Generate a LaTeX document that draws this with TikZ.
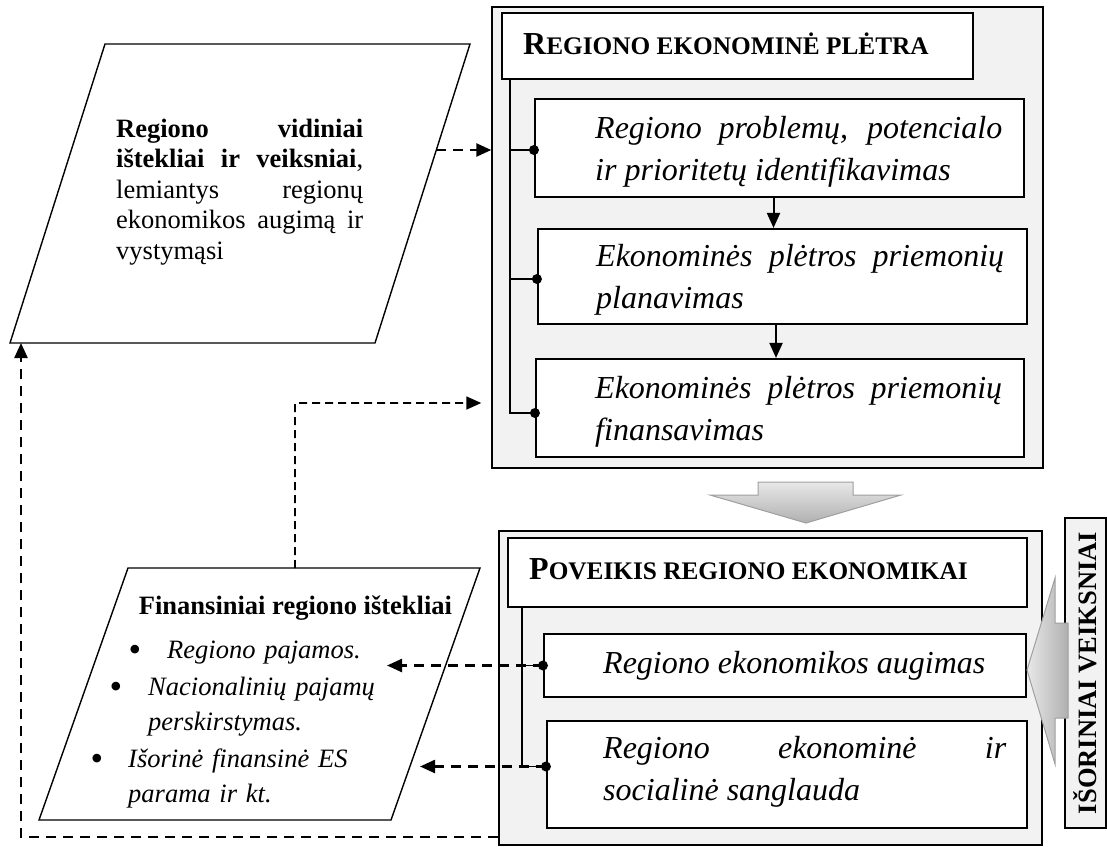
\documentclass[tikz,border=0pt]{standalone}
\usepackage{fontspec}
\setmainfont{Liberation Serif}
\usetikzlibrary{arrows.meta,calc,fit}
\definecolor{panel}{HTML}{F2F2F2}
% small capitals made from a reduced upper-case size
\newcommand\smcap[1]{{\fontsize{25.3}{25.3}\selectfont #1}}
\begin{document}
\begin{tikzpicture}[x=1pt,y=-1pt,
  panelbox/.style={draw=black,line width=1.4pt,fill=panel,inner sep=0pt},
  headbox/.style={draw=black,line width=1.6pt,fill=white,inner sep=0pt},
  stagebox/.style={draw=black,line width=2.1pt,fill=white,inner sep=0pt},
  bodytext/.style={inner sep=0pt,anchor=base west,align=justify,font=\fontsize{32}{42}\selectfont\itshape},
  bodyline/.style={inner sep=0pt,anchor=base west,font=\fontsize{32}{42}\selectfont\itshape},
  headtext/.style={inner sep=0pt,anchor=base west,font=\fontsize{32}{32}\selectfont\bfseries},
  itemtext/.style={inner sep=0pt,anchor=base west,text width=300pt,align=left,font=\fontsize{26.5}{35.5}\selectfont\itshape},
  bullet/.style={inner sep=0pt,anchor=base,font=\fontsize{36}{36}\selectfont},
  spine/.style={line width=1.8pt},
  flow/.style={line width=2pt,-{Triangle[length=15pt,width=13pt]}},
  linkdash/.style={line width=2.4pt,dash pattern=on 10pt off 7pt,-{Triangle[length=15pt,width=13pt]}},
  finedash/.style={line width=1.6pt,dash pattern=on 8pt off 5pt,-{Triangle[length=15pt,width=13pt]}},
  bigarrow/.style={draw=gray!75,line width=1pt},
  slanted/.style={draw=black,line width=1.4pt,fill=white},
]
\useasboundingbox (0,0) rectangle (1107,846);

% ---------- upper panel: regional economic development ----------
\node[panelbox,fit={(492,7) (1043,468)}] (eco) {};
\node[headbox,fit={(502,13) (973,79)}] (ecoHead) {};
\node[headtext] (ecoTitle) at (523,54) {R\smcap{EGIONO EKONOMINĖ PLĖTRA}};
\node[stagebox,fit={(535,99) (1024,197)}] (s1) {};
\node[stagebox,fit={(538,229) (1027,324)}] (s2) {};
\node[stagebox,fit={(536,359) (1024,457)}] (s3) {};
\node[bodytext,text width=407pt] (t1) at (595,138) {Regiono problemų, potencialo\linebreak ir prioritetų identifikavimas};
\node[bodytext,text width=408pt] (t2) at (596,266) {Ekonominės plėtros priemonių\linebreak planavimas};
\node[bodytext,text width=407pt] (t3) at (595,398) {Ekonominės plėtros priemonių\linebreak finansavimas};

\coordinate (sp) at ([xshift=9pt]ecoHead.south west);
\coordinate (j1) at ([yshift=-2pt]s1.west);
\coordinate (j2) at ([yshift=-2.5pt]s2.west);
\coordinate (j3) at ([yshift=-5pt]s3.west);
\draw[spine] (sp) |- (j3);
\draw[spine] (sp |- j1) -- (j1);
\draw[spine] (sp |- j2) -- (j2);

\draw[flow] ([xshift=-6pt]s1.south) -- ([xshift=-6pt]s1.south |- s2.north);
\draw[flow] ([xshift=-6.5pt]s2.south) -- ([xshift=-6.5pt]s2.south |- s3.north);

% ---------- transition arrow ----------
\draw[bigarrow,top color=gray!18,bottom color=gray!62]
  (758,482) -- (853,482) -- (853,495) -- (901,495) -- (806,523) -- (710,495) -- (758,495) -- cycle;

% ---------- lower panel: impact on the regional economy ----------
\node[panelbox,fit={(499,531) (1042,845)}] (pov) {};
\node[headbox,fit={(508,538) (1027,607)}] (povHead) {};
\node[headtext] (povTitle) at (529,579) {P\smcap{OVEIKIS REGIONO EKONOMIKAI}};
\node[stagebox,fit={(544,634) (1026,697)}] (ra) {};
\node[stagebox,fit={(547,721) (1027,828)}] (rb) {};
\node[bodyline] (ta) at (603,673) {Regiono ekonomikos augimas};
\node[bodytext,text width=403pt] (tb) at (603,758) {Regiono ekonominė ir\linebreak socialinė sanglauda};

\coordinate (sp2) at ([xshift=15pt]povHead.south west);
\coordinate (k1) at (ra.west);
\coordinate (k2) at ([yshift=8pt]rb.west);
\draw[spine] (sp2) |- (k2);
\draw[spine] (sp2 |- k1) -- (k1);

% ---------- external factors ----------
\node[panelbox,fit={(1065,518) (1106,828)}] (ext) {};
\node[rotate=90,inner sep=0pt,font=\fontsize{26.5}{26.5}\selectfont\bfseries] (extText) at (ext.center) {IŠORINIAI VEIKSNIAI};
\draw[bigarrow,left color=gray!18,right color=gray!62]
  (1068,623) -- (1055,623) -- (1055,578) -- (1027,670) -- (1055,764) -- (1055,718) -- (1068,718) -- cycle;

% ---------- internal resources (slanted block) ----------
\coordinate (vTL) at (105,44);
\coordinate (vTR) at (470,44);
\coordinate (vBR) at (375,343);
\coordinate (vBL) at (10,343);
\draw[slanted] (vTL) -- (vTR) -- (vBR) -- (vBL) -- cycle;
\node[inner sep=0pt,anchor=base west,text width=247pt,align=justify,font=\fontsize{26.5}{30.5}\selectfont] (vText) at (116,137)
  {\textbf{Regiono vidiniai\linebreak ištekliai ir veiksniai}, \linebreak lemiantys regionų\linebreak ekonomikos augimą ir\linebreak vystymąsi};

% ---------- financial resources (slanted block) ----------
\coordinate (fTL) at (128,568);
\coordinate (fTR) at (480,568);
\coordinate (fBR) at (391,820);
\coordinate (fBL) at (39,820);
\draw[slanted] (fTL) -- (fTR) -- (fBR) -- (fBL) -- cycle;
\node[inner sep=0pt,anchor=base,font=\fontsize{26.5}{26.5}\selectfont\bfseries] (fTitle) at (295.5,614) {Finansiniai regiono ištekliai};
\node[bullet] (b1) at (135,661) {•};
\node[itemtext] (f1) at (167,658) {Regiono pajamos.};
\node[bullet] (b2) at (116,698) {•};
\node[itemtext] (f2) at (148,695) {Nacionalinių pajamų\\perskirstymas.};
\node[bullet] (b3) at (97,770) {•};
\node[itemtext] (f3) at (128,767) {Išorinė finansinė ES\\parama ir kt.};

% ---------- dashed links ----------
\coordinate (v1out) at ($(vTR)!0.3545!(vBR)$);
\draw[linkdash] (v1out) -- (v1out -| eco.west);

\coordinate (fUp) at ($(fTL)!0.4744!(fTR)$);
\coordinate (bend2) at (295,403);
\draw[finedash,shorten >=10pt] (fUp) -- (bend2) -- (bend2 -| eco.west);

\coordinate (fb) at (21,837);
\draw[linkdash] (fb -| pov.west) -- (fb) -- (fb |- vBL);

\coordinate (fin1) at (387,666);
\coordinate (fin2) at (420,768);
\draw[linkdash] (k1) -- (k1 -| fin1);
\draw[linkdash] (k2) -- (k2 -| fin2);

% junction dots
\foreach \j in {j1,j2,j3,k1,k2} \fill (\j) circle (5pt);
\end{tikzpicture}
\end{document}
